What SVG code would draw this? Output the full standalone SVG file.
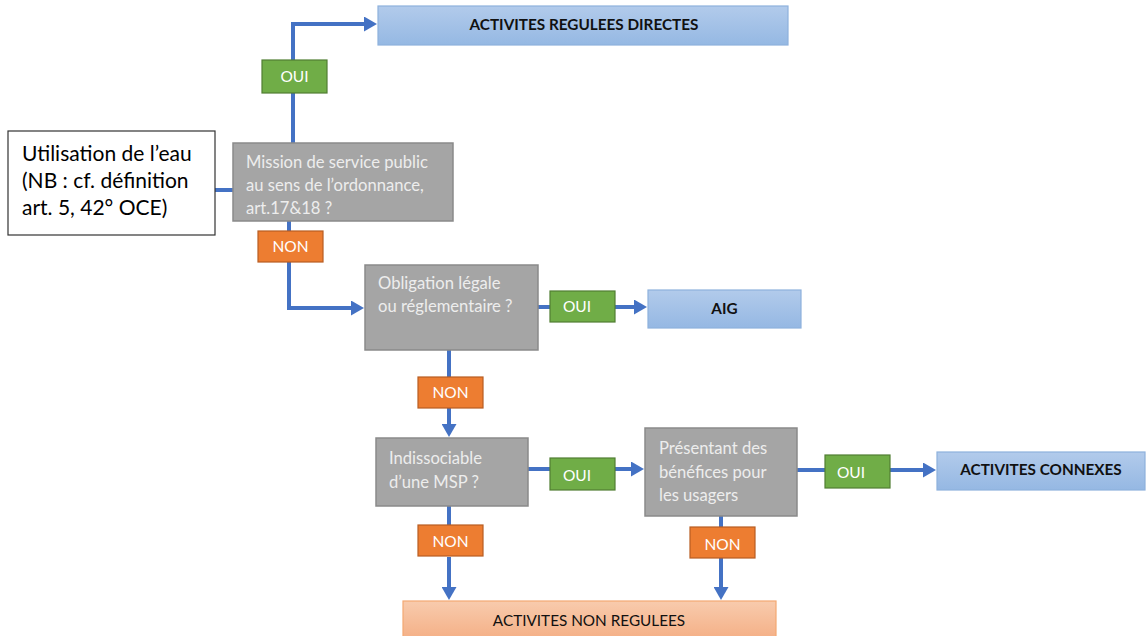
<svg xmlns="http://www.w3.org/2000/svg" width="1146" height="636" viewBox="0 0 1146 636">
<defs>
<linearGradient id="gBlue" x1="0" y1="0" x2="0" y2="1"><stop offset="0" stop-color="#b2cbeb"/><stop offset="1" stop-color="#95b8e3"/></linearGradient>
<linearGradient id="gSalmon" x1="0" y1="0" x2="0" y2="1"><stop offset="0" stop-color="#f8cbad"/><stop offset="1" stop-color="#f4ae84"/></linearGradient>
<marker id="arr" viewBox="0 0 13 15" refX="0" refY="7.5" markerWidth="3.25" markerHeight="3.75" orient="auto" markerUnits="strokeWidth"><path d="M0,0 L13,7.5 L0,15 Z" fill="#4472c4"/></marker>
</defs>
<style>
.t{font-family:Lato,"Open Sans",sans-serif}
.q{fill:#a5a5a5;stroke:#8a8a8a;stroke-width:1.5}
.qt{fill:#ededed;font-size:16.6px}
.oui{fill:#70ad47;stroke:#507e32;stroke-width:1.2}
.non{fill:#ed7d31;stroke:#b85d22;stroke-width:1.2}
.lt{fill:#fff;font-size:15.5px;text-anchor:middle}
.res{fill:url(#gBlue);stroke:#8eb1dd;stroke-width:1.2}
.rt{fill:#111;font-size:15.3px;font-weight:bold;text-anchor:middle}
.c{fill:none;stroke:#4472c4;stroke-width:4}
</style>
<rect width="1146" height="636" fill="#fff"/>
<g id="connectors">
<path class="c" d="M215,190 H233"/>
<path class="c" d="M293,143 V24 H364" marker-end="url(#arr)"/>
<path class="c" d="M289,221 V308 H351" marker-end="url(#arr)"/>
<path class="c" d="M538,307 H550"/>
<path class="c" d="M615,307 H634" marker-end="url(#arr)"/>
<path class="c" d="M449,350 V377"/>
<path class="c" d="M449,408 V424" marker-end="url(#arr)"/>
<path class="c" d="M528,469 H550"/>
<path class="c" d="M615,469 H631" marker-end="url(#arr)"/>
<path class="c" d="M797,470 H825"/>
<path class="c" d="M890,470 H923" marker-end="url(#arr)"/>
<path class="c" d="M449,506 V526"/>
<path class="c" d="M449,557 V587" marker-end="url(#arr)"/>
<path class="c" d="M721,516 V527"/>
<path class="c" d="M721,558 V587" marker-end="url(#arr)"/>
</g>
<g id="utilisation">
<rect x="8" y="131" width="207" height="104" fill="#fff" stroke="#333" stroke-width="1.2"/>
<text class="t" x="22" y="161" font-size="21" fill="#000">Utilisation de l’eau</text>
<text class="t" x="22" y="188" font-size="21" fill="#000">(NB : cf. définition</text>
<text class="t" x="22" y="215" font-size="21" fill="#000">art. 5, 42° OCE)</text>
</g>
<g id="mission">
<rect class="q" x="233" y="143" width="220" height="78"/>
<text class="t qt" x="246" y="168">Mission de service public</text>
<text class="t qt" x="246" y="191">au sens de l’ordonnance,</text>
<text class="t qt" x="246" y="214">art.17&amp;18 ?</text>
</g>
<g id="oui1"><rect class="oui" x="262" y="60" width="65" height="33"/><text class="t lt" x="294.5" y="82">OUI</text></g>
<g id="directes"><rect class="res" x="378" y="6" width="410" height="39"/><text class="t rt" x="584" y="30">ACTIVITES REGULEES DIRECTES</text></g>
<g id="non1"><rect class="non" x="258" y="231" width="65" height="31"/><text class="t lt" x="290.5" y="252">NON</text></g>
<g id="obligation">
<rect class="q" x="365" y="265" width="173" height="85"/>
<text class="t qt" x="378" y="289">Obligation légale</text>
<text class="t qt" x="378" y="312">ou réglementaire ?</text>
</g>
<g id="oui2"><rect class="oui" x="550" y="291" width="65" height="31"/><text class="t lt" x="577" y="312">OUI</text></g>
<g id="aig"><rect class="res" x="648" y="290" width="153" height="38"/><text class="t rt" x="724.5" y="314">AIG</text></g>
<g id="non2"><rect class="non" x="418" y="377" width="65" height="31"/><text class="t lt" x="450.5" y="398">NON</text></g>
<g id="indissociable">
<rect class="q" x="376" y="438" width="152" height="68"/>
<text class="t qt" x="389" y="464">Indissociable</text>
<text class="t qt" x="389" y="488">d’une MSP ?</text>
</g>
<g id="oui3"><rect class="oui" x="550" y="458" width="65" height="32"/><text class="t lt" x="577" y="481">OUI</text></g>
<g id="presentant">
<rect class="q" x="645" y="428" width="152" height="88"/>
<text class="t qt" x="659" y="454">Présentant des</text>
<text class="t qt" x="659" y="478">bénéfices pour</text>
<text class="t qt" x="659" y="501">les usagers</text>
</g>
<g id="oui4"><rect class="oui" x="825" y="455" width="65" height="33"/><text class="t lt" x="851" y="478">OUI</text></g>
<g id="connexes"><rect class="res" x="937" y="452" width="208" height="38"/><text class="t rt" x="1041" y="475">ACTIVITES CONNEXES</text></g>
<g id="non3"><rect class="non" x="418" y="525" width="65" height="31"/><text class="t lt" x="450.5" y="547">NON</text></g>
<g id="non4"><rect class="non" x="690" y="527" width="65" height="31"/><text class="t lt" x="722.5" y="550">NON</text></g>
<g id="nonregulees"><rect x="403" y="601" width="373" height="40" fill="url(#gSalmon)" stroke="#f4a872" stroke-width="1.2"/><text class="t" x="589" y="626" font-size="15.3" fill="#111" text-anchor="middle">ACTIVITES NON REGULEES</text></g>
</svg>
